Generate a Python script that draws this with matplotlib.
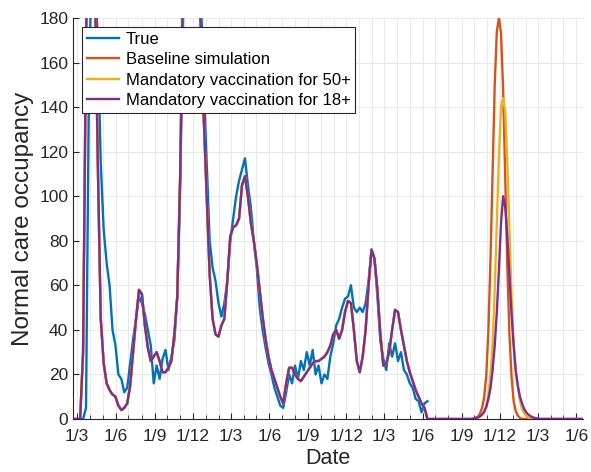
import numpy as np
import pandas as pd
import matplotlib
matplotlib.use("Agg")
import matplotlib.pyplot as plt
import matplotlib.dates as mdates

plt.rcParams['font.family'] = ['Liberation Sans', 'DejaVu Sans']

# weekly hospital occupancy (true), from 2020-03-01
true_start = "2020-03-01"
true_vals = [0, 0, 0, 5, 150, 210, 200, 170, 115, 85,
             70, 60, 40, 33, 20, 18, 12, 14, 25, 36,
             45, 55, 52, 47, 40, 33, 16, 24, 18, 27,
             31, 22, 28, 35, 55, 105, 180, 210, 230, 240,
             230, 215, 190, 150, 115, 80, 68, 62, 52, 46,
             52, 62, 80, 90, 100, 107, 112, 117, 105, 95,
             80, 68, 50, 40, 32, 25, 20, 14, 10, 6,
             5, 12, 20, 16, 24, 18, 26, 22, 30, 24,
             31, 20, 24, 16, 20, 18, 28, 34, 42, 45,
             50, 54, 55, 60, 50, 48, 50, 48, 52, 62,
             76, 72, 55, 35, 27, 22, 34, 28, 34, 26,
             30, 22, 20, 16, 14, 9, 8, 3, 7, 8]

# weekly fitted simulation (shared by all scenarios up to mid 2022)
sim_hist = [0, 0, 30, 170, 240, 260, 200, 115, 45, 25,
            16, 13, 11, 10, 6, 4, 5, 7, 15, 30,
            45, 58, 56, 42, 32, 26, 28, 30, 26, 21,
            21, 23, 26, 38, 55, 110, 200, 240, 250, 250,
            240, 210, 175, 135, 100, 65, 45, 38, 37, 42,
            45, 62, 82, 86, 87, 90, 105, 109, 100, 88,
            80, 70, 58, 46, 36, 28, 22, 18, 14, 10,
            7, 16, 23, 23, 20, 18, 17, 19, 21, 23,
            25, 26, 26, 27, 28, 30, 33, 38, 40, 36,
            40, 48, 53, 52, 40, 26, 21, 28, 40, 60,
            76, 72, 58, 38, 24, 25, 30, 40, 49, 48,
            40, 33, 26, 21, 17, 13, 10, 7, 5, 0]

# projected wave, every 5 days from 2022-09-15
wave_start = "2022-09-15"
baseline = [0, 0, 0, 0.3, 0.6, 1, 2.5, 5, 10, 20,
            40, 72, 112, 150, 174, 180, 173, 148, 108, 68,
            38, 19, 8, 3.5, 1.5, 0.5, 0, 0, 0, 0,
            0, 0, 0, 0, 0, 0, 0]
vacc50 = [0, 0, 0, 0.2, 0.4, 0.7, 1.2, 2, 3.5, 6,
          11, 20, 34, 58, 88, 118, 140, 144, 138, 115,
          85, 55, 34, 20, 14, 8, 4.5, 2.5, 1.3, 0.6,
          0.3, 0, 0, 0, 0, 0, 0]
vacc18 = [0, 0, 0, 0.2, 0.4, 0.7, 1.2, 2, 3.2, 5.5,
          9, 14, 22, 33, 48, 67, 88, 100, 95, 82,
          64, 47, 33, 22, 15, 10, 7, 4.5, 3, 2,
          1.3, 0.8, 0.5, 0.3, 0, 0, 0]

true_dates = pd.date_range(true_start, periods=len(true_vals), freq="7D")
hist_dates = pd.date_range(true_start, periods=len(sim_hist), freq="7D")
wave_dates = pd.date_range(wave_start, periods=len(baseline), freq="5D")


def scenario(wave):
    d = [pd.Timestamp("2020-02-10")] + list(hist_dates) + list(wave_dates) + [pd.Timestamp("2023-07-15")]
    v = [0] + sim_hist + wave + [0]
    return d, v


fig = plt.figure(figsize=(5.91, 4.72), dpi=100)
ax = fig.add_axes([0.1235, 0.1123, 0.8630, 0.8496])

lw = 1.7
ax.plot(true_dates, true_vals, color="#0072BD", lw=lw, label="True")
ax.plot(*scenario(baseline), color="#D95319", lw=lw, label="Baseline simulation")
ax.plot(*scenario(vacc50), color="#EDB120", lw=lw, label="Mandatory vaccination for 50+")
ax.plot(*scenario(vacc18), color="#7E2F8E", lw=lw, label="Mandatory vaccination for 18+")

ax.set_ylim(0, 180)
ax.set_xlim(pd.Timestamp("2020-02-20"), pd.Timestamp("2023-06-17"))
ax.set_yticks(np.arange(0, 181, 20))
ax.xaxis.set_major_locator(mdates.MonthLocator(bymonth=[3, 6, 9, 12]))
ax.xaxis.set_minor_locator(mdates.MonthLocator())
ax.xaxis.set_major_formatter(mdates.DateFormatter("%-d/%-m"))

ax.grid(True, which="both", color="#e8e8e8", lw=0.7)
ax.set_axisbelow(True)
for s in ["top", "right"]:
    ax.spines[s].set_visible(False)
for s in ["left", "bottom"]:
    ax.spines[s].set_color("#262626")
    ax.spines[s].set_linewidth(0.8)
ax.tick_params(which="both", direction="in", colors="#262626", labelsize=12.5)
ax.tick_params(which="major", length=4)
ax.tick_params(which="minor", length=3)
ax.tick_params(axis="x", which="major", pad=7)

ax.set_xlabel("Date", fontsize=15.5, color="#262626", labelpad=3)
ax.set_ylabel("Normal care occupancy", fontsize=17.5, color="#262626", labelpad=4)

leg = ax.legend(loc="upper left", bbox_to_anchor=(0.018, 0.978), borderaxespad=0,
                fontsize=12, frameon=True, fancybox=False, handlelength=1.9,
                handletextpad=0.4, labelspacing=0.33, borderpad=0.3)
leg.get_frame().set_edgecolor("#262626")
leg.get_frame().set_linewidth(0.8)
leg.get_frame().set_alpha(1)

fig.savefig("out.png", dpi=100)
